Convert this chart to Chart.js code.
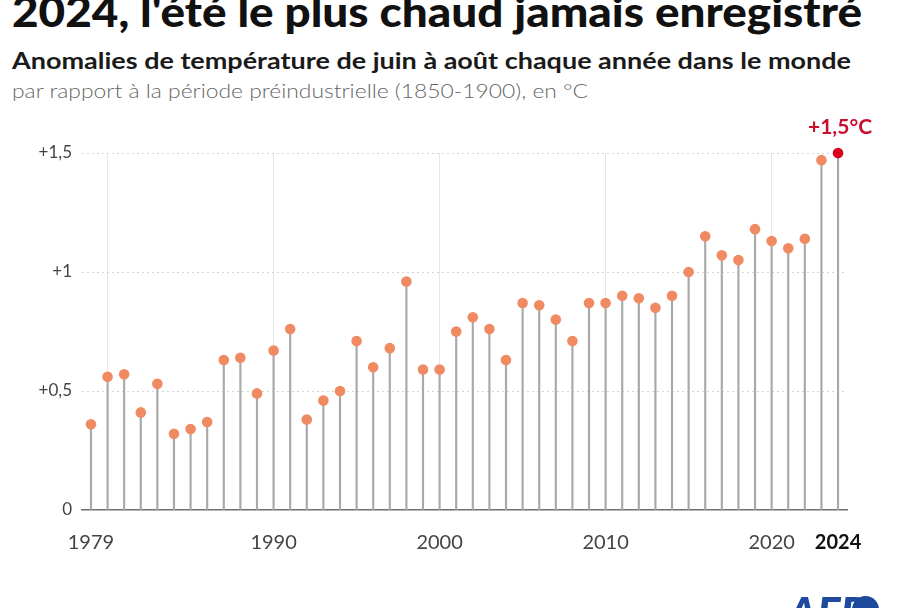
<!DOCTYPE html>
<html lang="fr">
<head>
<meta charset="utf-8">
<script src="https://cdn.jsdelivr.net/npm/chart.js@4.4.1/dist/chart.umd.min.js"></script>
<style>
  html, body { margin:0; padding:0; background:#fff; }
  body { width:900px; height:608px; overflow:hidden; position:relative; font-family: Lato, "Open Sans", sans-serif; }
  .txt { position:absolute; left:12px; white-space:nowrap; line-height:1; transform-origin:0 0; }
  #title { top:-10px; font-size:42px; font-weight:900; color:#111; }
  #subtitle { top:49px; font-size:23px; font-weight:700; color:#1a1a1a; }
  #note { top:80px; font-size:20px; font-weight:300; color:#666; }
  #chartBox { position:absolute; left:0; top:0; width:900px; height:608px; }
  #logo { position:absolute; left:788px; top:590px; font-size:44px; font-weight:900; font-style:italic; color:#1d4a9c; line-height:1; white-space:nowrap; }
  #logoBall { position:absolute; left:852px; top:596px; width:27px; height:27px; border-radius:50%; background:#1d4a9c; }
</style>
</head>
<body>
<div id="title" class="txt" data-w="850">2024, l'été le plus chaud jamais enregistré</div>
<div id="subtitle" class="txt" data-w="839">Anomalies de température de juin à août chaque année dans le monde</div>
<div id="note" class="txt" data-w="576">par rapport à la période préindustrielle (1850-1900), en °C</div>
<div id="chartBox"><canvas id="c" width="900" height="608"></canvas></div>
<div id="logo">AFP</div>
<div id="logoBall"></div>
<script>
// ---- data ----
const years = [1979,1980,1981,1982,1983,1984,1985,1986,1987,1988,1989,1990,1991,1992,1993,1994,1995,1996,1997,1998,1999,2000,2001,2002,2003,2004,2005,2006,2007,2008,2009,2010,2011,2012,2013,2014,2015,2016,2017,2018,2019,2020,2021,2022,2023,2024];
const anomalies = [0.36,0.56,0.57,0.41,0.53,0.32,0.34,0.37,0.63,0.64,0.49,0.67,0.76,0.38,0.46,0.50,0.71,0.60,0.68,0.96,0.59,0.59,0.75,0.81,0.76,0.63,0.87,0.86,0.80,0.71,0.87,0.87,0.90,0.89,0.85,0.90,1.00,1.15,1.07,1.05,1.18,1.13,1.10,1.14,1.47,1.50];
const xTicks = [1979,1980,1990,2000,2010,2020,2024];
const xTickLabels = ['1979','','1990','2000','2010','2020','2024'];
const xGridYears = [1980,1990,2000,2010,2020];
const yTicks = [0,0.5,1,1.5];
const yTickLabels = ['0','+0,5','+1','+1,5'];
const highlightYear = 2024;
const highlightLabel = '+1,5°C';

// ---- fit header texts ----
document.querySelectorAll('.txt').forEach(el => {
  const w = el.getBoundingClientRect().width;
  const target = parseFloat(el.dataset.w);
  el.style.transform = 'scaleX(' + (target / w) + ')';
});

const pointsData = years.map((y, i) => ({x: y, y: anomalies[i]}));

const labelPlugin = {
  id: 'highlightLabel',
  afterDatasetsDraw(chart) {
    const meta = chart.getDatasetMeta(0);
    const idx = years.indexOf(highlightYear);
    const pt = meta.data[idx];
    if (!pt) return;
    const ctx = chart.ctx;
    ctx.save();
    ctx.font = 'bold 21px Lato, sans-serif';
    ctx.fillStyle = '#c8102e';
    ctx.textAlign = 'center';
    ctx.textBaseline = 'alphabetic';
    ctx.fillText(highlightLabel, pt.x + 2, pt.y - 19);
    ctx.restore();
  }
};

new Chart(document.getElementById('c'), {
  data: {
    datasets: [
      {
        type: 'scatter',
        data: pointsData,
        order: 0,
        clip: false,
        pointRadius: 5.3,
        pointHoverRadius: 5.3,
        pointBorderWidth: 0,
        pointBackgroundColor: ctx => (ctx.raw && ctx.raw.x === highlightYear) ? '#d9001b' : '#ef8a62'
      },
      {
        type: 'bar',
        data: pointsData,
        order: 1,
        clip: false,
        backgroundColor: '#a9a9a9',
        barThickness: 1.5,
        borderWidth: 0
      }
    ]
  },
  options: {
    responsive: false,
    animation: false,
    layout: { padding: { top: 153, right: 53, left: 0, bottom: 0 } },
    plugins: { legend: { display: false }, tooltip: { enabled: false } },
    scales: {
      x: {
        type: 'linear',
        offset: false,
        min: 1978.46,
        max: 2024.54,
        afterBuildTicks: scale => { scale.ticks = xTicks.map(v => ({ value: v })); },
        afterFit: scale => { scale.height = 98; },
        grid: {
          offset: false,
          drawTicks: false,
          lineWidth: 1,
          color: ctx => (ctx.tick && xGridYears.includes(ctx.tick.value)) ? '#e6e6e6' : 'rgba(0,0,0,0)'
        },
        border: { display: true, color: '#6e6e6e', width: 1.5 },
        ticks: {
          autoSkip: false,
          maxRotation: 0,
          padding: 21,
          callback: v => { const i = xTicks.indexOf(v); return i >= 0 ? xTickLabels[i] : ''; },
          color: ctx => (ctx.tick && ctx.tick.value === highlightYear) ? '#111' : '#444',
          font: ctx => (ctx.tick && ctx.tick.value === highlightYear)
            ? { family: 'Lato', size: 20, weight: 'bold' }
            : { family: 'Lato', size: 20, weight: '400' }
        }
      },
      y: {
        min: 0,
        max: 1.5,
        afterBuildTicks: scale => { scale.ticks = yTicks.map(v => ({ value: v })); },
        afterFit: scale => { scale.width = 82; },
        grid: {
          drawTicks: false,
          lineWidth: 1,
          color: ctx => (ctx.tick && ctx.tick.value === 0) ? 'rgba(0,0,0,0)' : '#d4d4d4'
        },
        border: { display: false, dash: [2, 3] },
        ticks: {
          padding: 10,
          callback: v => { const i = yTicks.indexOf(v); return i >= 0 ? yTickLabels[i] : ''; },
          color: '#444',
          font: { family: 'Lato', size: 17, weight: '400' }
        }
      }
    }
  },
  plugins: [labelPlugin]
});
</script>
</body>
</html>
